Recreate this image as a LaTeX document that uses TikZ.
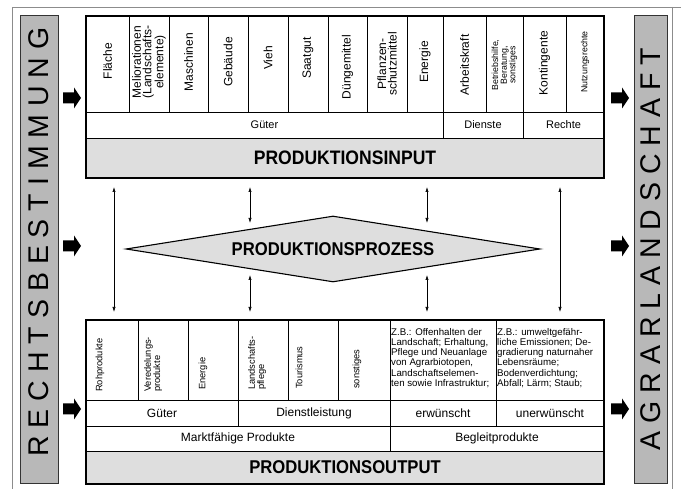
\documentclass[tikz,border=0pt]{standalone}
\usepackage{fontspec}
\setmainfont{Liberation Sans}
\newfontfamily\titlefont[FakeStretch=0.9]{Liberation Sans}
\usetikzlibrary{shapes.geometric,arrows.meta}

% a table cell given by its corners: [style]{name}{x1}{y1}{x2}{y2}
\newcommand\mkcell[6][cell]{%
  \node[#1, minimum width={#5-#3}, minimum height={#6-#4}] (#2) at ({(#3+#5)/2},{(#4+#6)/2}) {};}

\begin{document}
\begin{tikzpicture}[x=1pt,y=-1pt,
  cell/.style={draw, line width=0.9pt, inner sep=0pt, outer sep=0pt},
  titlerow/.style={cell, fill=black!13},
  outerbox/.style={draw, line width=1.8pt, inner sep=0pt, outer sep=0pt},
  frameline/.style={draw=black!45, line width=0.6pt},
  sidebar/.style={draw=black!80, fill=black!28, line width=0.6pt, inner sep=0pt, outer sep=0pt},
  bartext/.style={rotate=90, inner sep=0pt, font=\fontsize{28.5}{30}\selectfont},
  topcol/.style={rotate=90, align=center, inner sep=0pt, font=\fontsize{12}{10.5}\selectfont},
  topcolsmall/.style={topcol, font=\fontsize{8.8}{8.6}\selectfont},
  botcol/.style={rotate=90, align=left, anchor=west, inner sep=0pt, font=\fontsize{9.3}{9.2}\selectfont},
  toprow/.style={inner sep=0pt, font=\fontsize{11}{12}\selectfont},
  botrow/.style={inner sep=0pt, font=\fontsize{12}{13}\selectfont},
  note/.style={align=left, anchor=north west, inner sep=0pt, font=\fontsize{9.7}{10.2}\selectfont},
  titletext/.style={inner sep=0pt, font=\titlefont\bfseries\fontsize{18.5}{20}\selectfont},
  dblarrow/.style={{Latex[length=5pt,width=3.2pt]}-{Latex[length=5pt,width=3.2pt]}, line width=0.6pt},
  blockarrow/.pic={\fill (0,-5.5) -- (11,-5.5) -- (11,-10.5) -- (18,0) -- (11,10.5) -- (11,5.5) -- (0,5.5) -- cycle;},
]
\useasboundingbox (0,0) rectangle (681,489);

% outer frame
\draw[frameline] (12,489) -- (12,7) -- (681,7);
\draw[frameline] (672,7) -- (672,489);

% side bars
\mkcell[sidebar]{lbar}{20}{15}{58}{483}
\mkcell[sidebar]{rbar}{634}{15}{667}{483}
\node[bartext] (ltext) at (39,242) {R E C H T S B E S T I M M U N G};
\node[bartext] (rtext) at (650.5,249) {A G R A R L A N D S C H A F T};

% block arrows
\foreach \yy in {98,246,409} {
  \pic at (63,\yy) {blockarrow};
  \pic at (611,\yy) {blockarrow};
}

% ---------------- production input ----------------
\mkcell{i1}{86}{16}{129}{112}
\mkcell{i2}{129}{16}{169}{112}
\mkcell{i3}{169}{16}{208}{112}
\mkcell{i4}{208}{16}{248}{112}
\mkcell{i5}{248}{16}{288}{112}
\mkcell{i6}{288}{16}{328}{112}
\mkcell{i7}{328}{16}{367}{112}
\mkcell{i8}{367}{16}{407}{112}
\mkcell{i9}{407}{16}{443}{112}
\mkcell{i10}{443}{16}{486}{112}
\mkcell{i11}{486}{16}{523}{112}
\mkcell{i12}{523}{16}{566}{112}
\mkcell{i13}{566}{16}{604}{112}
\mkcell{ig}{86}{112}{443}{138}
\mkcell{id}{443}{112}{523}{138}
\mkcell{ir}{523}{112}{604}{138}
\mkcell[titlerow]{it}{86}{138}{604}{178}
\node[outerbox, minimum width=518, minimum height=162] (inbox) at (345,97) {};

\node[topcol] (ti1) at ([yshift=3]i1.center) {Fläche};
\node[topcol] (ti2) at ([yshift=2]i2.center) {Meliorationen\\(Landschafts-\\elemente)};
\node[topcol] (ti3) at ([yshift=2]i3.center) {Maschinen};
\node[topcol] (ti4) at ([yshift=2]i4.center) {Gebäude};
\node[topcol] (ti5) at ([yshift=6]i5.center) {Vieh};
\node[topcol] (ti6) at ([yshift=6]i6.center) {Saatgut};
\node[topcol] (ti7) at ([yshift=-3]i7.center) {Düngemittel};
\node[topcol] (ti8) at ([yshift=0]i8.center) {Pflanzen-\\schutzmittel};
\node[topcol] (ti9) at ([yshift=2]i9.center) {Energie};
\node[topcol] (ti10) at ([yshift=-1]i10.center) {Arbeitskraft};
\node[topcolsmall] (ti11) at ([yshift=-1]i11.center) {Betriebshilfe,\\Beratung,\\sonstiges};
\node[topcol] (ti12) at ([yshift=1]i12.center) {Kontingente};
\node[topcolsmall] (ti13) at ([yshift=2]i13.center) {Nutzungsrechte};
\node[toprow] (tig) at (ig.center) {Güter};
\node[toprow] (tid) at (id.center) {Dienste};
\node[toprow] (tir) at (ir.center) {Rechte};
\node[titletext, font=\titlefont\bfseries\fontsize{19.5}{20}\selectfont] (tit) at (it.center) {PRODUKTIONSINPUT};

% ---------------- production process ----------------
\node[diamond, draw, fill=black!13, line width=1.1pt, aspect=6.3, inner sep=0pt,
      minimum width=414, minimum height=66, titletext] (proc) at (333,249) {PRODUKTIONSPROZESS};

% ---------------- production output ----------------
\mkcell{o1}{86}{320}{138}{400}
\mkcell{o2}{138}{320}{188}{400}
\mkcell{o3}{188}{320}{238}{400}
\mkcell{o4}{238}{320}{288}{400}
\mkcell{o5}{288}{320}{338}{400}
\mkcell{o6}{338}{320}{390}{400}
\mkcell{o7}{390}{320}{496}{400}
\mkcell{o8}{496}{320}{604}{400}
\mkcell{og}{86}{400}{238}{426}
\mkcell{od}{238}{400}{390}{426}
\mkcell{oe}{390}{400}{496}{426}
\mkcell{ou}{496}{400}{604}{426}
\mkcell{om}{86}{426}{390}{451}
\mkcell{ob}{390}{426}{604}{451}
\mkcell[titlerow]{ot}{86}{451}{604}{484}
\node[outerbox, minimum width=518, minimum height=164] (outbox) at (345,402) {};

\node[botcol] (to1) at (100,392) {Rohprodukte};
\node[botcol] (to2) at (153,392) {Veredelungs-\\produkte};
\node[botcol] (to3) at (203,390) {Energie};
\node[botcol] (to4) at (257,390) {Landschafts-\\pflege};
\node[botcol] (to5) at (299,389) {Tourismus};
\node[botcol] (to6) at (357,389) {sonstiges};
\node[note] (to7) at (391,328) {Z.B.: Offenhalten der\\Landschaft; Erhaltung,\\Pflege und Neuanlage\\von Agrarbiotopen,\\Landschaftselemen-\\ten sowie Infrastruktur;};
\node[note] (to8) at (497,328) {Z.B.: umweltgefähr-\\liche Emissionen; De-\\gradierung naturnaher\\Lebensräume;\\Bodenverdichtung;\\Abfall; Lärm; Staub;};
\node[botrow] (tog) at (og.center) {Güter};
\node[botrow] (tod) at (od.center) {Dienstleistung};
\node[botrow] (toe) at (oe.center) {erwünscht};
\node[botrow] (tou) at (ou.center) {unerwünscht};
\node[botrow] (tom) at (om.center) {Marktfähige Produkte};
\node[botrow] (tob) at (ob.center) {Begleitprodukte};
\node[titletext] (tot) at (ot.center) {PRODUKTIONSOUTPUT};

% ---------------- connectors ----------------
\coordinate (ax1) at (114,0);
\coordinate (ax2) at (250,0);
\coordinate (ax3) at (427,0);
\coordinate (ax4) at (560,0);
\coordinate (p2t) at (250,223);
\coordinate (p2b) at (250,275);
\coordinate (p3t) at (427,223);
\coordinate (p3b) at (427,275);
\draw[dblarrow, shorten <=9pt, shorten >=8pt] (inbox.south -| ax1) -- (outbox.north -| ax1);
\draw[dblarrow, shorten <=9pt, shorten >=8pt] (inbox.south -| ax4) -- (outbox.north -| ax4);
\draw[dblarrow, shorten <=9pt] (inbox.south -| ax2) -- (p2t);
\draw[dblarrow, shorten <=9pt] (inbox.south -| ax3) -- (p3t);
\draw[dblarrow, shorten >=8pt] (p2b) -- (outbox.north -| ax2);
\draw[dblarrow, shorten >=8pt] (p3b) -- (outbox.north -| ax3);
\end{tikzpicture}
\end{document}
